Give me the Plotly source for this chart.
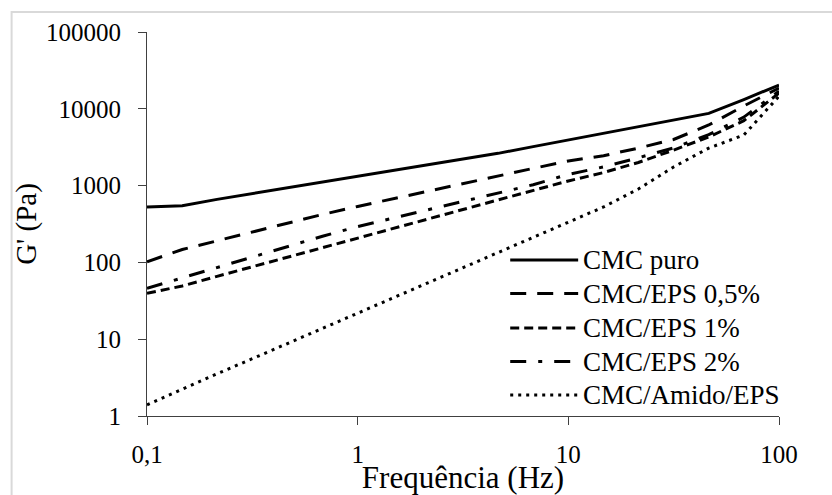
import plotly.graph_objects as go

# Oscillatory frequency sweep (Hz), six points per decade
freq_hz = [0.1, 0.147, 0.215, 0.316, 0.464, 0.681, 1.0, 1.47, 2.15, 3.16,
           4.64, 6.81, 10.0, 14.7, 21.5, 31.6, 46.4, 68.1, 100.0]

# Storage modulus G' (Pa) for each formulation
g_cmc_puro = [527, 545, 662, 789, 936, 1114, 1322, 1568, 1866, 2213,
              2630, 3220, 3925, 4800, 5850, 7150, 8720, 13200, 20400]
g_eps_05 = [102, 147, 191, 249, 324, 421, 535, 675, 845, 1062,
            1334, 1675, 2090, 2450, 3080, 3990, 6150, 10900, 18600]
g_eps_1 = [39.6, 49.3, 65.8, 87.4, 116, 155, 207, 275, 366, 488,
           651, 866, 1150, 1480, 2000, 2900, 4300, 7000, 16000]
g_eps_2 = [46, 63, 86, 117, 161, 219, 293, 376, 484, 622,
           799, 1027, 1400, 1750, 2300, 3100, 4600, 7800, 17000]
g_amido_eps = [1.4, 2.25, 3.54, 5.57, 8.77, 13.8, 21.7, 34.1, 53.6, 84.3,
               133, 208, 328, 527, 903, 1750, 3080, 4550, 14600]

series_names = ["CMC puro", "CMC/EPS 0,5%", "CMC/EPS 1%", "CMC/EPS 2%", "CMC/Amido/EPS"]
series_values = [g_cmc_puro, g_eps_05, g_eps_1, g_eps_2, g_amido_eps]
series_dash = ["solid", "16px,11px", "9px,5px", "16px,12px,4px,12px", "3px,5px"]

x_tick_vals = [0.1, 1, 10, 100]
x_tick_text = ["0,1", "1", "10", "100"]
y_tick_vals = [1, 10, 100, 1000, 10000, 100000]
y_tick_text = ["1", "10", "100", "1000", "10000", "100000"]

W, H = 832, 495
ML, MR, MT, MB = 146.5, 53, 32, 79
PW, PH = W - ML - MR, H - MT - MB

FONT = "Liberation Serif, Times New Roman, serif"
LINE_W = 3


def px_x(px):
    return (px - ML) / PW


def px_y(py):
    return (H - MB - py) / PH


fig = go.Figure()
for name, vals, dash in zip(series_names, series_values, series_dash):
    fig.add_trace(go.Scatter(
        x=freq_hz, y=vals, mode="lines", name=name, showlegend=False,
        line=dict(color="black", width=LINE_W, dash=dash),
    ))

shapes = []
annotations = []

# Hand-built legend block in the lower right of the plot area
row_y = [260, 293.5, 328, 361.5, 395]
for name, dash, ry in zip(series_names, series_dash, row_y):
    shapes.append(dict(
        type="line", xref="paper", yref="paper",
        x0=px_x(510), x1=px_x(578), y0=px_y(ry), y1=px_y(ry),
        line=dict(color="black", width=LINE_W, dash=dash),
    ))
    annotations.append(dict(
        xref="paper", yref="paper", x=px_x(581), y=px_y(ry),
        xanchor="left", yanchor="middle", text=name, showarrow=False,
        font=dict(family=FONT, size=27, color="black"),
    ))

# Light chart-area frame
shapes.append(dict(
    type="rect", xref="paper", yref="paper",
    x0=px_x(11), x1=px_x(W + 20), y0=px_y(12), y1=px_y(H + 20),
    line=dict(color="#d9d9d9", width=2), fillcolor="rgba(0,0,0,0)", layer="below",
))

fig.update_layout(
    template="none",
    width=W, height=H, autosize=False,
    margin=dict(l=ML, r=MR, t=MT, b=MB, pad=0),
    paper_bgcolor="white", plot_bgcolor="white",
    font=dict(family=FONT, size=24, color="black"),
    shapes=shapes, annotations=annotations,
)
fig.update_xaxes(
    type="log", range=[-1, 2], automargin=False,
    tickvals=x_tick_vals, ticktext=x_tick_text,
    showgrid=False, zeroline=False, mirror=False,
    showline=True, linecolor="#404040", linewidth=1.2,
    ticks="outside", ticklen=8, tickwidth=1.2, tickcolor="#404040",
    ticklabelstandoff=8,
    tickfont=dict(family=FONT, size=25, color="black"),
    title=dict(text="Frequência (Hz)", standoff=4,
               font=dict(family=FONT, size=31, color="black")),
)
fig.update_yaxes(
    type="log", range=[0, 5], automargin=False,
    tickvals=y_tick_vals, ticktext=y_tick_text,
    showgrid=False, zeroline=False, mirror=False,
    showline=True, linecolor="#404040", linewidth=1.2,
    ticks="outside", ticklen=8, tickwidth=1.2, tickcolor="#404040",
    ticklabelstandoff=12,
    tickfont=dict(family=FONT, size=25, color="black"),
    title=dict(text="G' (Pa)", standoff=0,
               font=dict(family=FONT, size=29, color="black")),
)

fig.write_html("out.html")
